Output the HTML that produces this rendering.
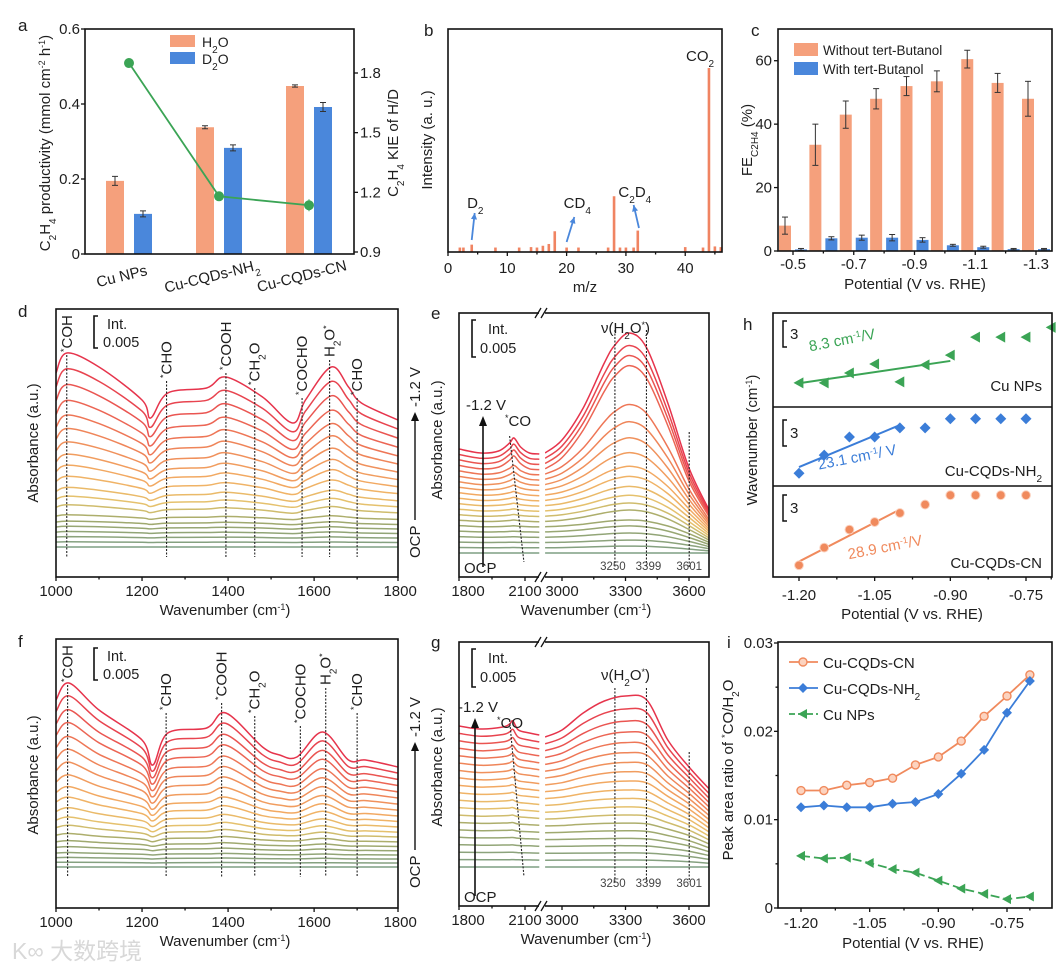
<!DOCTYPE html>
<html><head><meta charset="utf-8">
<style>
html,body{margin:0;padding:0;background:#fff;}
svg{display:block;}
text{fill:#1e1e1e;}
</style></head>
<body>
<svg id="fig" width="1064" height="968" viewBox="0 0 1064 968" font-family="'Liberation Sans', Arial, sans-serif"></svg>
<script>
// ================= DATA =================
// panel a
const aCats=['Cu NPs','Cu-CQDs-NH<tspan baseline-shift="sub" font-size="10">2</tspan>','Cu-CQDs-CN'];
const aH2O=[0.195,0.338,0.448];
const aH2OErr=[0.012,0.004,0.003];
const aD2O=[0.107,0.283,0.392];
const aD2OErr=[0.008,0.008,0.012];
const aKIE=[1.85,1.18,1.135];
const aKIEErr=[0.02,0.01,0.03];
const aLeftTicks=[0,0.2,0.4,0.6];
const aLeftLabels=['0','0.2','0.4','0.6'];
const aRightTicks=[0.9,1.2,1.5,1.8];
const aRightLabels=['0.9','1.2','1.5','1.8'];
// panel b
const bMz=[2,2.6,4,8,12,14,15,16,17,18,20,22,27,28,29,30,31.3,32,40,43,44,45,46];
const bInt=[0.02,0.02,0.033,0.02,0.02,0.022,0.02,0.028,0.036,0.093,0.02,0.02,0.02,0.25,0.02,0.02,0.02,0.096,0.022,0.02,0.825,0.025,0.022];
const bTicks=[0,10,20,30,40];
// panel c
const cPot=[-0.5,-0.6,-0.7,-0.8,-0.9,-1.0,-1.1,-1.2,-1.3];
const cWithout=[8,33.5,43,48,52,53.5,60.5,53,48];
const cWithoutErr=[2.7,6.5,4.3,3.2,3,3.3,2.8,3,5.5];
const cWith=[0.5,4,4.2,4.2,3.5,1.8,1.2,0.6,0.6];
const cWithErr=[0.3,0.5,0.8,1,0.7,0.3,0.3,0.2,0.2];
const cXTicks=[-0.5,-0.7,-0.9,-1.1,-1.3];
const cYTicks=[0,20,40,60];
// panel d
const dKnots=[1000,1025,1100,1200,1220,1260,1350,1395,1480,1550,1580,1640,1680,1710,1795];
const dTop=[174,194,180,147,129,154,159,170,150,124,147,180,160,144,127];
const dBase=[76,76,76,76,76,76,76,76,76,76,76,76,76,76,76];
const dAmp=[0,0.01,0.02,0.03,0.04,0.05,0.07,0.12,0.16,0.2,0.26,0.32,0.38,0.45,0.53,0.61,0.7,0.8,0.9,1];
const dMarkWn=[1025,1257,1395,1462,1572,1636,1700];
// panel f
const fKnots=[1000,1030,1100,1200,1225,1260,1350,1395,1480,1520,1560,1620,1680,1720,1795];
const fTop=[167,184,157,127,102,134,139,154,120,112,110,135,107,107,100];
const fBase=[70,70,70,70,70,70,70,70,70,70,70,70,70,70,70];
const fAmp=[0,0.01,0.02,0.03,0.05,0.07,0.1,0.14,0.18,0.23,0.29,0.35,0.42,0.5,0.58,0.66,0.75,0.83,0.92,1];
const fMarkWn=[1027,1256,1385,1462,1568,1627,1700];
const markLabels=['*COH','*CHO','*COOH','*CH2O','*COCHO','H2O*','*CHO'];
// panel e
const eLK=[1800,1900,1980,2030,2050,2080,2120,2165];
const eLTop=[104,100,102,110,115,106,100,99];
const eLBase=[104,100,100,100,100,100,100,99];
const eRK=[2920,3000,3100,3200,3250,3320,3400,3500,3600,3700];
const eRTop=[100,113,145,190,208,220,205,150,85,41];
const eRBase=[100,100,100,100,100,100,98,90,70,38];
const eAmp=[0,0.014,0.02,0.035,0.05,0.056,0.095,0.11,0.13,0.16,0.2,0.24,0.31,0.39,0.48,0.58,0.86,0.9,0.94,1];
// panel g
const gLK=[1800,1900,2000,2030,2045,2070,2120,2165];
const gLTop=[141,138,140,143,146,137,134,132];
const gLBase=[141,138,139,139,139,136,134,132];
const gRK=[2920,3000,3100,3200,3300,3400,3500,3600,3700];
const gRTop=[130,137,154,166,171,167,127,100,77];
const gRBase=[130,130,130,130,130,128,118,100,70];
const gAmp=[0,0.005,0.01,0.02,0.03,0.05,0.07,0.1,0.13,0.17,0.21,0.26,0.32,0.38,0.45,0.53,0.62,0.72,0.85,1];
const egLTicks=[1800,2100];
const egRTicks=[3000,3300,3600];
const egMarks=[3250,3399,3601];
// panel h
const hPot=[-1.20,-1.15,-1.10,-1.05,-1.00,-0.95,-0.90,-0.85,-0.80,-0.75,-0.70];
const hNPs=[0,0,1.1,2.1,0.1,2.0,3.1,5.1,5.1,5.1,6.2];
const hNH2=[0,2,4,4,5,5,6,6,6,6];
const hCN=[0,1.96,3.96,4.8,5.8,6.74,7.78,7.78,7.78,7.78];
const hSlopes=[8.3,23.1,28.9];
const hFitEnd=[-0.90,-1.00,-1.00];
const hTicks=[-1.20,-1.05,-0.90,-0.75];
// panel i
const iPot=[-1.20,-1.15,-1.10,-1.05,-1.00,-0.95,-0.90,-0.85,-0.80,-0.75,-0.70];
const iCN=[0.0133,0.0133,0.0139,0.0142,0.0147,0.0162,0.0171,0.0189,0.0217,0.0240,0.0264];
const iNH2=[0.0114,0.0116,0.0114,0.0114,0.0118,0.0120,0.0129,0.0152,0.0179,0.0221,0.0257];
const iNPs=[0.0059,0.0056,0.0057,0.0051,0.0044,0.0040,0.0031,0.0022,0.0016,0.0010,0.0013];
const iYTicks=[0,0.01,0.02,0.03];
const iYLabels=['0','0.01','0.02','0.03'];

// ================= HELPERS =================
const NS='http://www.w3.org/2000/svg';
const svg=document.getElementById('fig');
function mk(tag,attrs,parent){const e=document.createElementNS(NS,tag);for(const k in attrs)e.setAttribute(k,attrs[k]);(parent||svg).appendChild(e);return e;}
function txt(x,y,s,size,anchor,parent,extra){const t=mk('text',Object.assign({x:x,y:y,'font-size':size,'text-anchor':anchor||'start'},extra||{}),parent);t.innerHTML=s;return t;}
function lin(d0,d1,r0,r1){return v=>r0+(v-d0)/(d1-d0)*(r1-r0);}
function grp(parent){return mk('g',{},parent);}
function frame(x0,y0,x1,y1,parent){return mk('rect',{x:x0,y:y0,width:x1-x0,height:y1-y0,fill:'none',stroke:'#111','stroke-width':1.6},parent);}
function smooth(pts){let d='M'+pts[0][0].toFixed(1)+','+pts[0][1].toFixed(1);const n=pts.length;
 for(let i=0;i<n-1;i++){const p0=pts[Math.max(i-1,0)],p1=pts[i],p2=pts[i+1],p3=pts[Math.min(i+2,n-1)];
  const c1=[p1[0]+(p2[0]-p0[0])/6,p1[1]+(p2[1]-p0[1])/6],c2=[p2[0]-(p3[0]-p1[0])/6,p2[1]-(p3[1]-p1[1])/6];
  d+=' C'+c1[0].toFixed(1)+','+c1[1].toFixed(1)+' '+c2[0].toFixed(1)+','+c2[1].toFixed(1)+' '+p2[0].toFixed(1)+','+p2[1].toFixed(1);}
 return d;}
const stopF=[0,0.3,0.4,0.55,0.75,1];
const stopC=[[127,159,132],[163,170,108],[227,196,110],[242,176,100],[239,130,88],[230,52,76]];
function col(f){let k=0;while(k<stopF.length-2&&f>stopF[k+1])k++;const t=(f-stopF[k])/(stopF[k+1]-stopF[k]);
 const c=stopC[k].map((v,j)=>Math.round(v+(stopC[k+1][j]-v)*t));return 'rgb('+c.join(',')+')';}
function fmtLabel(s){
 let h=s.replace(/^\*/,'<tspan baseline-shift="super" font-size="9">*</tspan>');
 h=h.replace(/H2O\*$/,'H<tspan baseline-shift="sub" font-size="10">2</tspan>O<tspan baseline-shift="super" font-size="9">*</tspan>');
 h=h.replace('CH2O','CH<tspan baseline-shift="sub" font-size="10">2</tspan>O');
 return h;}
let clipN=0;
function clip(x0,y0,x1,y1){const id='cp'+(clipN++);const cp=mk('clipPath',{id:id});mk('rect',{x:x0,y:y0,width:x1-x0,height:y1-y0},cp);return 'url(#'+id+')';}
function spectra(parent,knots,top,base,amps,xs,yb){
 const n=amps.length;
 for(let i=0;i<n;i++){
  const pts=knots.map((k,j)=>[xs(k),yb-((i/(n-1))*base[j]+amps[i]*(top[j]-base[j]))]);
  const p=mk('path',{d:smooth(pts),fill:'none',stroke:col(i/(n-1)),'stroke-width':1.5},parent);
  
  
 }}
function vdash(parent,x,y0,y1){return mk('line',{x1:x,y1:y0,x2:x,y2:y1,stroke:'#222','stroke-width':1.1,'stroke-dasharray':'2,1.5'},parent);}
function errbar(parent,x,y0,y1){mk('line',{x1:x,y1:y0,x2:x,y2:y1,stroke:'#333','stroke-width':1},parent);
 mk('line',{x1:x-3,y1:y0,x2:x+3,y2:y0,stroke:'#333','stroke-width':1},parent);mk('line',{x1:x-3,y1:y1,x2:x+3,y2:y1,stroke:'#333','stroke-width':1},parent);}
function tickX(parent,x,y,len){mk('line',{x1:x,y1:y,x2:x,y2:y+len,stroke:'#111','stroke-width':1.3},parent);}
function tickY(parent,x,y,len){mk('line',{x1:x,y1:y,x2:x-len,y2:y,stroke:'#111','stroke-width':1.3},parent);}
function rtext(x,y,s,size,parent,anchor){const t=txt(x,y,s,size,anchor||'middle',parent,{transform:'rotate(-90 '+x+' '+y+')'});return t;}
const ORANGE='#f5a07c', BLUE='#4a87db', GREEN='#3ba455', ORL='#f08a5d';

// ================= PANEL A =================
const pa=grp();
const xa=lin(0,2,129,309), ya=lin(0,0.6,254,29), yr=lin(0.9,1.8,252,73);
txt(18,31,'a',17,'start',pa);
aCats.forEach((c,i)=>{
 const r1=mk('rect',{x:xa(i)-23,y:ya(aH2O[i]),width:18,height:254-ya(aH2O[i]),fill:ORANGE},pa);
 
 
 errbar(pa,xa(i)-14,ya(aH2O[i]+aH2OErr[i]),ya(aH2O[i]-aH2OErr[i]));
 const r2=mk('rect',{x:xa(i)+5,y:ya(aD2O[i]),width:18,height:254-ya(aD2O[i]),fill:BLUE},pa);
 
 
 errbar(pa,xa(i)+14,ya(aD2O[i]+aD2OErr[i]),ya(aD2O[i]-aD2OErr[i]));
 const cl=txt(xa(i)-6,281,c,15,'middle',pa,{transform:'rotate(-14 '+(xa(i)-6)+' 281)'});
 
 
});
const kl=mk('polyline',{points:aKIE.map((v,i)=>xa(i)+','+yr(v)).join(' '),fill:'none',stroke:GREEN,'stroke-width':1.8},pa);


aKIE.forEach((v,i)=>{mk('line',{x1:xa(i),y1:yr(v+aKIEErr[i]),x2:xa(i),y2:yr(v-aKIEErr[i]),stroke:GREEN,'stroke-width':1},pa);
 const m=mk('circle',{cx:xa(i),cy:yr(v),r:5,fill:GREEN},pa);
 
 });
frame(85,29,354,254,pa);
aLeftTicks.forEach((v,i)=>{tickY(pa,85,ya(v),4);txt(80,ya(v)+5,aLeftLabels[i],15,'end',pa);});
aRightTicks.forEach((v,i)=>{mk('line',{x1:354,y1:yr(v),x2:358,y2:yr(v),stroke:'#111','stroke-width':1.3},pa);txt(360,yr(v)+5,aRightLabels[i],15,'start',pa);});
const aly=rtext(50,143,'C<tspan baseline-shift="sub" font-size="10">2</tspan>H<tspan baseline-shift="sub" font-size="10">4</tspan> productivity (mmol cm<tspan baseline-shift="super" font-size="9">-2</tspan> h<tspan baseline-shift="super" font-size="9">-1</tspan>)',15,pa);


const ary=rtext(398,143,'C<tspan baseline-shift="sub" font-size="10">2</tspan>H<tspan baseline-shift="sub" font-size="10">4</tspan> KIE of H/D',15,pa);


const lga=grp(pa);
mk('rect',{x:170,y:35,width:25,height:12,fill:ORANGE},lga);txt(202,47,'H<tspan baseline-shift="sub" font-size="10">2</tspan>O',14,'start',lga);
mk('rect',{x:170,y:52,width:25,height:12,fill:BLUE},lga);txt(202,64,'D<tspan baseline-shift="sub" font-size="10">2</tspan>O',14,'start',lga);

// ================= PANEL B =================
const pb=grp();
const xb=lin(0,46.2,448,722), yb=lin(0,1,252,29);
txt(424,36,'b',17,'start',pb);
bMz.forEach((m,i)=>{const s=mk('rect',{x:xb(m)-1.3,y:yb(bInt[i]),width:2.6,height:252-yb(bInt[i]),fill:'#f08462'},pb);
 
 });
frame(448,29,722,252,pb);
bTicks.forEach(t=>{tickX(pb,xb(t),252,4);txt(xb(t),273,String(t),15,'middle',pb);});
[5,15,25,35,45].forEach(t=>tickX(pb,xb(t),252,2.5));
txt(585,292,'m/z',15,'middle',pb);
rtext(432,140,'Intensity (a. u.)',15,pb);
function arrow(parent,x1,y1,x2,y2,color){mk('line',{x1:x1,y1:y1,x2:x2,y2:y2,stroke:color,'stroke-width':1.8},parent);
 const a=Math.atan2(y2-y1,x2-x1),L=7;
 mk('polygon',{points:[x2,y2,x2-L*Math.cos(a-0.45),y2-L*Math.sin(a-0.45),x2-L*Math.cos(a+0.45),y2-L*Math.sin(a+0.45)].join(','),fill:color},parent);}
arrow(pb,xb(4),240,xb(4.5),213,BLUE);
arrow(pb,xb(20),242,xb(21.3),217,BLUE);
arrow(pb,xb(32.2),228,xb(31.3),205,BLUE);
txt(xb(4.6),208,'D<tspan baseline-shift="sub" font-size="10">2</tspan>',15,'middle',pb);
txt(xb(21.8),208,'CD<tspan baseline-shift="sub" font-size="10">4</tspan>',15,'middle',pb);
txt(xb(31.5),197,'C<tspan baseline-shift="sub" font-size="10">2</tspan>D<tspan baseline-shift="sub" font-size="10">4</tspan>',15,'middle',pb);
txt(xb(42.5),61,'CO<tspan baseline-shift="sub" font-size="10">2</tspan>',15,'middle',pb);

// ================= PANEL C =================
const pc=grp();
const xc=lin(-0.5,-1.3,793,1036), yc=lin(0,70,251,29);
txt(751,36,'c',17,'start',pc);
cPot.forEach((p,i)=>{
 const r1=mk('rect',{x:xc(p)-14,y:yc(cWithout[i]),width:12,height:251-yc(cWithout[i]),fill:ORANGE},pc);
 
 
 errbar(pc,xc(p)-8,yc(cWithout[i]+cWithoutErr[i]),yc(cWithout[i]-cWithoutErr[i]));
 const r2=mk('rect',{x:xc(p)+2,y:yc(cWith[i]),width:12,height:251-yc(cWith[i]),fill:BLUE},pc);
 
 
 errbar(pc,xc(p)+8,yc(cWith[i]+cWithErr[i]),yc(cWith[i]-cWithErr[i]));
});
frame(778,29,1052,251,pc);
cXTicks.forEach(t=>{tickX(pc,xc(t),251,4);txt(xc(t),269,String(t),15,'middle',pc);});
[-0.6,-0.8,-1.0,-1.2].forEach(t=>tickX(pc,xc(t),251,2.5));
cYTicks.forEach(t=>{tickY(pc,778,yc(t),4);txt(772,yc(t)+5,String(t),15,'end',pc);});
txt(915,289,'Potential (V vs. RHE)',15,'middle',pc);
rtext(752,140,'FE<tspan baseline-shift="sub" font-size="10">C2H4</tspan> (%)',15,pc);
const lgc=grp(pc);
mk('rect',{x:794,y:43,width:24,height:13,fill:ORANGE},lgc);txt(823,55,'Without tert-Butanol',13.5,'start',lgc);
mk('rect',{x:794,y:62,width:24,height:13,fill:BLUE},lgc);txt(823,74,'With tert-Butanol',13.5,'start',lgc);

// ================= PANEL D / F =================
function ftirLow(letter,y0,y1,yBase,knots,top,base,amps,marks,labBottoms,labTopY,ly,name){
 const p=grp();
 const xs=lin(1000,1795,56,398);
 txt(18,y0+8,letter,17,'start',p);
 const cg=grp(p);cg.setAttribute('clip-path',clip(56,y0,398,y1));
 spectra(cg,knots,top,base,amps,xs,yBase);
 marks.forEach((w,i)=>{vdash(p,xs(w),labBottoms[i]+3,yBase+10);
  const t=rtext(xs(w)+5,labBottoms[i],fmtLabel(markLabels[i]),15,p,'start');
  
  });
 frame(56,y0,398,y1,p);
 [1000,1200,1400,1600,1800].forEach(t=>{const x=Math.min(xs(t),398);tickX(p,x,y1,4);txt(xs(t),y1+19,String(t),15,'middle',p);});
 [1100,1300,1500,1700].forEach(t=>tickX(p,xs(t),y1,2.5));
 txt(225,y1+38,'Wavenumber (cm<tspan baseline-shift="super" font-size="9">-1</tspan>)',15,'middle',p);
 rtext(38,ly,'Absorbance (a.u.)',15,p);
 mk('path',{d:'M'+(98)+','+(labTopY)+' h-4 v32 h4',fill:'none',stroke:'#111','stroke-width':1.6},p);
 txt(107,labTopY+13,'Int.',14.5,'start',p);txt(103,labTopY+31,'0.005',14.5,'start',p);
 return p;}
ftirLow('d',309,577,547,dKnots,dTop,dBase,dAmp,dMarkWn,[352,378,370,385,395,357,395],316,443,'panel-d');
ftirLow('f',639,908,867,fKnots,fTop,fBase,fAmp,fMarkWn,[682,710,700,713,723,685,710],648,775,'panel-f');

// ================= PANEL E / G =================
function ftirHigh(letter,y0,y1,yBase,LK,LT,LB,RK,RT,RB,amps,o,name){
 const p=grp();
 const xL=lin(1800,2100,459,525), xR=lin(3000,3600,562,689);
 txt(431,y0+6,letter,17,'start',p);
 const cl=grp(p);cl.setAttribute('clip-path',clip(459,y0,541,y1));
 spectra(cl,LK,LT,LB,amps,xL,yBase);
 const cr=grp(p);cr.setAttribute('clip-path',clip(545,y0,709,y1));
 spectra(cr,RK,RT,RB,amps,xR,yBase);
 egMarks.forEach((w,i)=>{vdash(p,xR(w),i==2?o.m3:o.m12,yBase+15);txt(xR(w)+(i==0?-2:(i==1?2:0)),yBase+o.ml,String(w),11.5,'middle',p,{style:'fill:#444'});});
 mk('line',{x1:xL(2030),y1:o.co0,x2:xL(2095),y2:yBase+9,stroke:'#222','stroke-width':1.1,'stroke-dasharray':'2,1.5'},p);
 frame(459,y0,709,y1,p);
 [y0,y1].forEach(y=>{mk('rect',{x:539,y:y-4,width:6,height:8,fill:'#fff'},p);
  mk('line',{x1:535,y1:y+5,x2:541,y2:y-5,stroke:'#111','stroke-width':1.3},p);mk('line',{x1:541,y1:y+5,x2:547,y2:y-5,stroke:'#111','stroke-width':1.3},p);});
 egLTicks.forEach(t=>{tickX(p,xL(t),y1,4);txt(xL(t)+(t==1800?9:0),y1+19,String(t),15,'middle',p);});
 egRTicks.forEach(t=>{tickX(p,xR(t),y1,4);txt(xR(t),y1+19,String(t),15,'middle',p);});
 [1950].forEach(t=>tickX(p,xL(t),y1,2.5));[3150,3450].forEach(t=>tickX(p,xR(t),y1,2.5));
 txt(586,y1+38,'Wavenumber (cm<tspan baseline-shift="super" font-size="9">-1</tspan>)',15,'middle',p);
 rtext(442,o.ly,'Absorbance (a.u.)',15,p);
 mk('path',{d:'M476,'+o.sb0+' h-4 v'+o.sbh+' h4',fill:'none',stroke:'#111','stroke-width':1.6},p);
 txt(488,o.sb0+14,'Int.',14.5,'start',p);txt(480,o.sb0+33,'0.005',14.5,'start',p);
 txt(xR(3300),o.nu,'ν(H<tspan baseline-shift="sub" font-size="10">2</tspan>O<tspan baseline-shift="super" font-size="9">*</tspan>)',15,'middle',p);
 mk('line',{x1:o.ax,y1:y1-10,x2:o.ax,y2:o.at+8,stroke:'#111','stroke-width':1.6},p);
 mk('polygon',{points:(o.ax)+','+o.at+' '+(o.ax-4)+','+(o.at+10)+' '+(o.ax+4)+','+(o.at+10),fill:'#111'},p);
 txt(o.ax-17,o.at-6,'-1.2 V',15,'start',p);
 txt(o.ax+22,o.at+10,'<tspan baseline-shift="super" font-size="9">*</tspan>CO',15,'start',p);
 txt(464,y1-4,'OCP',15,'start',p);
 rtext(420,o.r0,'OCP',15,p,'start');
 mk('line',{x1:415,y1:o.r0-38,x2:415,y2:o.r1+8,stroke:'#111','stroke-width':1.4},p);
 mk('polygon',{points:'415,'+o.r1+' 411,'+(o.r1+9)+' 419,'+(o.r1+9),fill:'#111'},p);
 rtext(420,o.r1-5,'-1.2 V',15,p,'start');
 return p;}
ftirHigh('e',313,577,553,eLK,eLTop,eLBase,eRK,eRTop,eRBase,eAmp,{m12:330,m3:432,ml:17,co0:436,ly:440,sb0:320,sbh:37,nu:333,ax:483,at:416,r0:558,r1:412},'panel-e');
ftirHigh('g',642,906,867,gLK,gLTop,gLBase,gRK,gRTop,gRBase,gAmp,{m12:688,m3:752,ml:20,co0:720,ly:767,sb0:649,sbh:38,nu:680,ax:475,at:718,r0:888,r1:742},'panel-g');

// ================= PANEL H =================
const ph=grp();
const xh=lin(-1.20,-0.75,799,1026);
txt(743,330,'h',17,'start',ph);
const hSubs=[
 {vals:hNPs,dom:[-2.7,7.8],rng:[407,313],color:GREEN,mark:'tri',name:'Cu NPs',lx:843,ly:345,ny:391,sbar:321},
 {vals:hNH2,dom:[-1.4,7.3],rng:[486,407],color:'#3b7dd8',mark:'dia',name:'Cu-CQDs-NH<tspan baseline-shift="sub" font-size="10">2</tspan>',lx:858,ly:462,ny:476,sbar:420},
 {vals:hCN,dom:[-1.3,8.8],rng:[577,486],color:ORL,mark:'circ',name:'Cu-CQDs-CN',lx:886,ly:552,ny:568,sbar:495}];
hSubs[0].lab='8.3 cm<tspan baseline-shift="super" font-size="9">-1</tspan>/V';
hSubs[2].lab='28.9 cm<tspan baseline-shift="super" font-size="9">-1</tspan>/V';
hSubs[1].lab='23.1 cm<tspan baseline-shift="super" font-size="9">-1</tspan>/ V';
function marker(parent,kind,x,y,color,size){
 if(kind=='tri')return mk('polygon',{points:(x-size)+','+y+' '+(x+size*0.8)+','+(y-size)+' '+(x+size*0.8)+','+(y+size),fill:color},parent);
 if(kind=='dia')return mk('polygon',{points:x+','+(y-size)+' '+(x+size)+','+y+' '+x+','+(y+size)+' '+(x-size)+','+y,fill:color},parent);
 return mk('circle',{cx:x,cy:y,r:size*0.8,fill:color,stroke:'#fbd1be','stroke-width':1},parent);}
hSubs.forEach((s,k)=>{
 const ys=lin(s.dom[0],s.dom[1],s.rng[0],s.rng[1]);
 const fx=[],fv=[];s.vals.forEach((v,i)=>{if(hPot[i]<=hFitEnd[k]+1e-9){fx.push(hPot[i]);fv.push(v);}});
 const mx=fx.reduce((a,b)=>a+b,0)/fx.length,mv=fv.reduce((a,b)=>a+b,0)/fv.length;
 const f=x=>mv+hSlopes[k]*(x-mx);
 const fl=mk('line',{x1:xh(-1.2),y1:ys(f(-1.2)),x2:xh(hFitEnd[k]),y2:ys(f(hFitEnd[k])),stroke:s.color,'stroke-width':2},ph);
 
 
 s.vals.forEach((v,i)=>{const m=marker(ph,s.mark,xh(hPot[i]),ys(v),s.color,5.5);
  
  });
 const lt=txt(s.lx,s.ly,s.lab,15,'middle',ph,{transform:'rotate(-11 '+s.lx+' '+s.ly+')',style:'fill:'+s.color});
 
 
 txt(1042,s.ny,s.name,15,'end',ph);
 mk('path',{d:'M787,'+s.sbar+' h-4 v26 h4',fill:'none',stroke:'#111','stroke-width':1.5},ph);
 txt(790,s.sbar+18,'3',15,'start',ph);
});
frame(773,313,1052,577,ph);
mk('line',{x1:773,y1:407,x2:1052,y2:407,stroke:'#111','stroke-width':1.4},ph);
mk('line',{x1:773,y1:486,x2:1052,y2:486,stroke:'#111','stroke-width':1.4},ph);
hTicks.forEach(t=>{tickX(ph,xh(t),577,4);txt(xh(t),600,t.toFixed(2),15,'middle',ph);});
[-1.125,-0.975,-0.825,-0.70].forEach(t=>tickX(ph,xh(t),577,2.5));
txt(912,619,'Potential (V vs. RHE)',15,'middle',ph);
rtext(757,440,'Wavenumber (cm<tspan baseline-shift="super" font-size="9">-1</tspan>)',15,ph);

// ================= PANEL I =================
const pi=grp();
const xi=lin(-1.20,-0.75,801,1007), yi=lin(0,0.03,908,643);
txt(727,648,'i',17,'start',pi);
const iSeries=[{v:iCN,c:ORL,m:'circ',dash:'',n:'Cu-CQDs-CN'},{v:iNH2,c:'#3b7dd8',m:'dia',dash:'',n:'Cu-CQDs-NH<tspan baseline-shift="sub" font-size="10">2</tspan>'},{v:iNPs,c:GREEN,m:'tri',dash:'9,4',n:'Cu NPs'}];
iSeries.forEach((s,k)=>{
 const l=mk('polyline',{points:s.v.map((v,i)=>xi(iPot[i])+','+yi(v)).join(' '),fill:'none',stroke:s.c,'stroke-width':1.8,'stroke-dasharray':s.dash},pi);
 
 
 s.v.forEach((v,i)=>{let m;
  if(s.m=='circ')m=mk('circle',{cx:xi(iPot[i]),cy:yi(v),r:4,fill:'#fcd3bf',stroke:s.c,'stroke-width':1.4},pi);
  else m=marker(pi,s.m,xi(iPot[i]),yi(v),s.c,5);
  
  });
 const ly=662+k*26;
 const lg=grp(pi);
 mk('line',{x1:789,y1:ly,x2:818,y2:ly,stroke:s.c,'stroke-width':1.8,'stroke-dasharray':s.dash?'6,3':''},lg);
 if(s.m=='circ')mk('circle',{cx:803,cy:ly,r:4,fill:'#fcd3bf',stroke:s.c,'stroke-width':1.4},lg);else marker(lg,s.m,803,ly,s.c,5);
 txt(823,ly+6,s.n,15,'start',lg);
});
frame(778,642,1052,908,pi);
iYTicks.forEach((t,i)=>{tickY(pi,778,yi(t),4);txt(773,yi(t)+5,iYLabels[i],15,'end',pi);});
[0.005,0.015,0.025].forEach(t=>tickY(pi,778,yi(t),2.5));
hTicks.forEach(t=>{tickX(pi,xi(t),908,4);txt(xi(t),928,t.toFixed(2),15,'middle',pi);});
[-1.125,-0.975,-0.825,-0.70].forEach(t=>tickX(pi,xi(t),908,2.5));
txt(913,948,'Potential (V vs. RHE)',15,'middle',pi);
rtext(733,770,'Peak area ratio of <tspan baseline-shift="super" font-size="9">*</tspan>CO/H<tspan baseline-shift="sub" font-size="10">2</tspan>O',15,pi);

const wm=txt(12,959,'K∞ 大数跨境',23,'start',svg,{style:'fill:#d8d8d8','font-family':"'Liberation Sans','Noto Sans CJK SC',sans-serif"});


</script>
</body></html>
